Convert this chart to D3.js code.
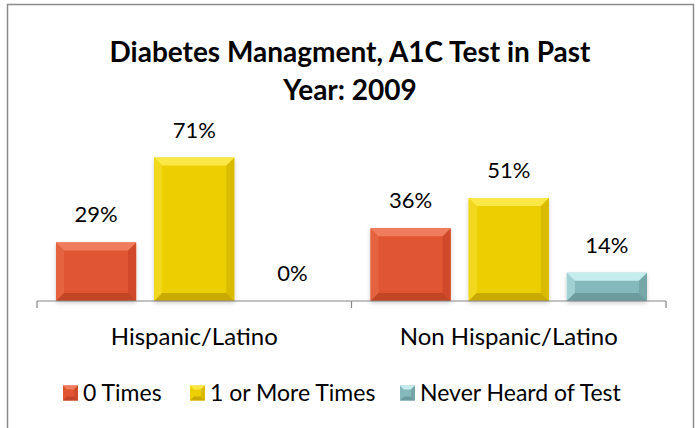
<!DOCTYPE html>
<html>
<head>
<meta charset="utf-8">
<script src="https://cdn.jsdelivr.net/npm/d3@7"></script>
<style>
  html, body { margin: 0; padding: 0; background: #fff; }
  svg { display: block; }
</style>
</head>
<body>
<svg id="chart"></svg>
<script>
const categories = ['Hispanic/Latino', 'Non Hispanic/Latino']
const seriesNames = ['0 Times', '1 or More Times', 'Never Heard of Test']
const zeroTimes = [29, 36]
const oneOrMore = [71, 51]
const neverHeard = [0, 14]
const titleLines = ['Diabetes Managment, A1C Test in Past', 'Year: 2009']

const width = 700
const height = 428
const font = 'Lato, "Open Sans", sans-serif'

// face + bevel shades
const palette = {
  '0 Times': { face: '#e05430', light: '#ef7c5c', left: '#e6633f', right: '#d04a29', dark: '#c24425' },
  '1 or More Times': { face: '#eccf00', light: '#fbe744', left: '#f1d81c', right: '#d9bb00', dark: '#c9aa00' },
  'Never Heard of Test': { face: '#86b9bb', light: '#c6eded', left: '#a2d1d3', right: '#74a6a8', dark: '#6c9c9e' }
}

const seriesValues = [zeroTimes, oneOrMore, neverHeard]
const rows = []
categories.forEach((cat, i) => {
  seriesNames.forEach((s, j) => {
    rows.push({ category: cat, series: s, value: seriesValues[j][i] })
  })
})

const svg = d3.select('#chart')
  .attr('width', width)
  .attr('height', height)
  .attr('viewBox', `0 0 ${width} ${height}`)

const defs = svg.append('defs')
const shadow = defs.append('filter')
  .attr('id', 'shadow')
  .attr('x', '-10%').attr('y', '-10%')
  .attr('width', '120%').attr('height', '130%')
shadow.append('feDropShadow')
  .attr('dx', 0).attr('dy', 2)
  .attr('stdDeviation', 2)
  .attr('flood-color', '#000')
  .attr('flood-opacity', 0.2)

// outer frame
svg.append('rect')
  .attr('x', 7.5).attr('y', 4.5)
  .attr('width', 686).attr('height', 430)
  .attr('fill', '#fff')
  .attr('stroke', '#8c8c8c')
  .attr('stroke-width', 1.5)

// title
svg.append('text')
  .attr('x', 350)
  .attr('text-anchor', 'middle')
  .attr('font-family', font)
  .attr('font-weight', 'bold')
  .attr('font-size', 28)
  .attr('fill', '#000')
  .selectAll('tspan')
  .data(titleLines)
  .join('tspan')
  .attr('x', 350)
  .attr('y', (d, i) => 62 + i * 38)
  .text(d => d)

const margin = { left: 37, right: 34, baseline: 301 }

const x0 = d3.scaleBand()
  .domain(categories)
  .range([margin.left, width - margin.right])

const x1 = d3.scaleBand()
  .domain(seriesNames)
  .range([0, x0.bandwidth()])
  .paddingInner(0.184)
  .paddingOuter(0.194)

const y = d3.scaleLinear()
  .domain([0, 80])
  .range([margin.baseline, margin.baseline - 161.6])

// bars
const bars = svg.append('g')
  .selectAll('g')
  .data(rows.filter(d => d.value > 0))
  .join('g')
  .attr('filter', 'url(#shadow)')

bars.each(function (d) {
  const g = d3.select(this)
  const c = palette[d.series]
  const x = x0(d.category) + x1(d.series)
  const w = x1.bandwidth()
  const top = y(d.value)
  const h = y(0) - top
  const b = Math.min(8, h / 3)

  g.append('rect')
    .attr('x', x).attr('y', top)
    .attr('width', w).attr('height', h)
    .attr('fill', c.face)

  const poly = (pts, fill) => g.append('polygon')
    .attr('points', pts.map(p => p.join(',')).join(' '))
    .attr('fill', fill)

  poly([[x, top], [x + b, top + b], [x + b, top + h - b], [x, top + h]], c.left)
  poly([[x + w, top], [x + w - b, top + b], [x + w - b, top + h - b], [x + w, top + h]], c.right)
  poly([[x, top + h], [x + b, top + h - b], [x + w - b, top + h - b], [x + w, top + h]], c.dark)
  poly([[x, top], [x + w, top], [x + w - b, top + b], [x + b, top + b]], c.light)
})

// value labels
svg.append('g')
  .selectAll('text')
  .data(rows)
  .join('text')
  .attr('x', d => x0(d.category) + x1(d.series) + x1.bandwidth() / 2)
  .attr('y', d => y(d.value) - 20)
  .attr('text-anchor', 'middle')
  .attr('font-family', font)
  .attr('font-size', 22)
  .attr('fill', '#000')
  .text(d => d.value + '%')

// category axis: line with ticks at band edges
const axis = svg.append('g').attr('stroke', '#868686').attr('stroke-width', 1.2)
axis.append('line')
  .attr('x1', x0.range()[0]).attr('x2', x0.range()[1])
  .attr('y1', y(0)).attr('y2', y(0))
const edges = categories.map(c => x0(c)).concat([x0(categories[categories.length - 1]) + x0.bandwidth()])
axis.selectAll('.tick')
  .data(edges)
  .join('line')
  .attr('x1', d => d).attr('x2', d => d)
  .attr('y1', y(0)).attr('y2', y(0) + 7)

svg.append('g')
  .selectAll('text')
  .data(categories)
  .join('text')
  .attr('x', d => x0(d) + x0.bandwidth() / 2)
  .attr('y', y(0) + 44)
  .attr('text-anchor', 'middle')
  .attr('font-family', font)
  .attr('font-size', 24)
  .attr('fill', '#000')
  .text(d => d)

// legend
const legendX = [63, 190, 400]
const legend = svg.append('g')
  .selectAll('g')
  .data(seriesNames)
  .join('g')
  .attr('transform', (d, i) => `translate(${legendX[i]}, 393)`)

legend.each(function (d) {
  const g = d3.select(this)
  const c = palette[d]
  const s = 15
  const b = 4
  g.append('rect').attr('x', 0).attr('y', -s / 2).attr('width', s).attr('height', s).attr('fill', c.face)
  const poly = (pts, fill) => g.append('polygon')
    .attr('points', pts.map(p => p.join(',')).join(' ')).attr('fill', fill)
  const t = -s / 2
  poly([[0, t], [s, t], [s - b, t + b], [b, t + b]], c.light)
  poly([[0, t + s], [b, t + s - b], [s - b, t + s - b], [s, t + s]], c.dark)
  poly([[s, t], [s - b, t + b], [s - b, t + s - b], [s, t + s]], c.right)
  g.append('text')
    .attr('x', s + 5)
    .attr('y', 8)
    .attr('font-family', font)
    .attr('font-size', 23)
    .attr('fill', '#000')
    .text(d)
})
</script>
</body>
</html>
